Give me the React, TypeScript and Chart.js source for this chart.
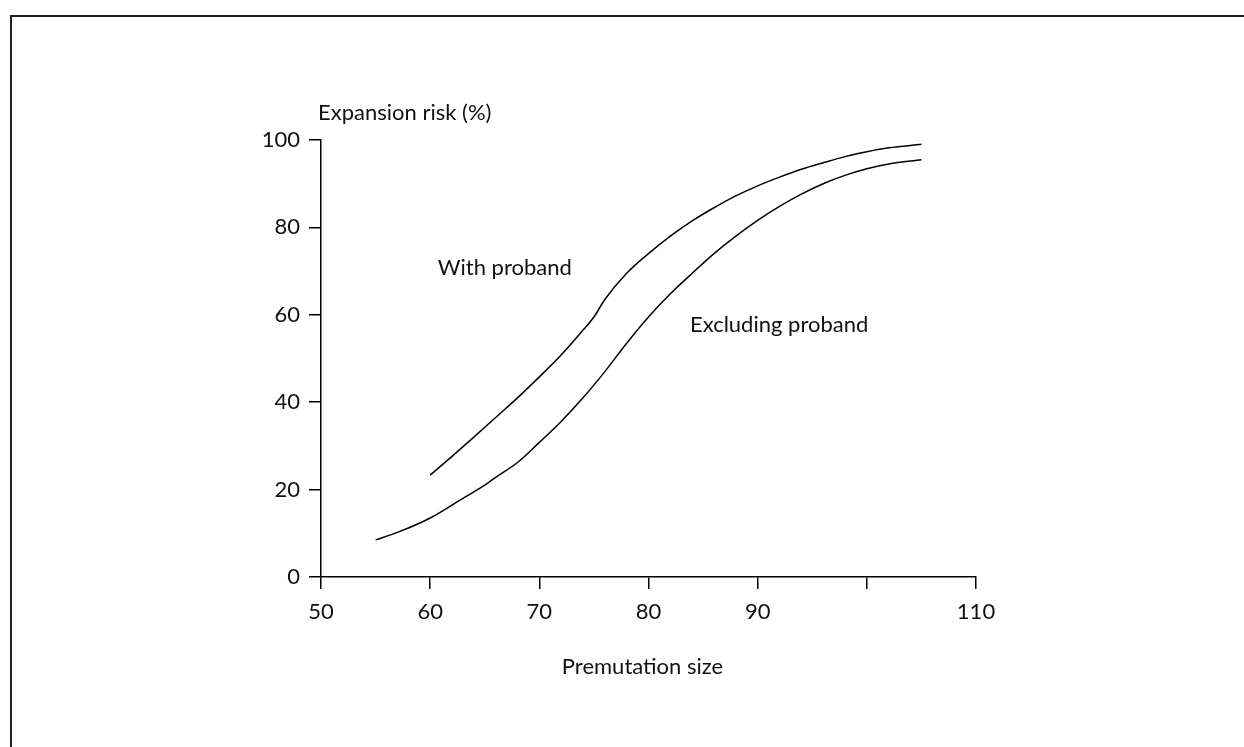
import React, { useEffect, useRef } from "react";
import { Chart, registerables } from "chart.js";

Chart.register(...registerables);

const withProbandX = [60, 62, 64, 66, 68, 70, 72, 74, 75, 76, 78, 80, 82, 84, 86, 88, 90, 92, 94, 96, 98, 100, 102, 105];
const withProbandY = [23.3, 27.6, 32, 36.5, 41, 45.8, 50.8, 56.5, 59.5, 63.5, 69.5, 74, 78, 81.5, 84.5, 87.2, 89.5, 91.5, 93.3, 94.8, 96.2, 97.3, 98.2, 99.0];

const excludingX = [55, 57, 60, 63, 65, 66, 68, 70, 72, 74, 76, 78, 80, 82, 84, 86, 88, 90, 92, 94, 96, 98, 100, 102, 105];
const excludingY = [8.5, 10.2, 13.5, 18, 21, 22.8, 26.2, 30.8, 35.6, 41, 47, 53.5, 59.5, 64.8, 69.5, 74, 78, 81.6, 84.8, 87.6, 90.0, 91.9, 93.4, 94.5, 95.5];

const xTicks = [50, 60, 70, 80, 90, 100, 110];
const xTickLabels = ["50", "60", "70", "80", "90", "", "110"];
const yTicks = [0, 20, 40, 60, 80, 100];

const yTitle = "Expansion risk (%)";
const xTitle = "Premutation size";
const curveLabels = [
  { text: "With proband", x: 60.7, y: 70.7 },
  { text: "Excluding proband", x: 83.8, y: 57.7 },
];

const FONT = "Lato, 'Open Sans', sans-serif";
const FS = 22;

export default function App() {
  const ref = useRef<HTMLCanvasElement | null>(null);

  useEffect(() => {
    if (!ref.current) return;
    const textPlugin = {
      id: "texts",
      beforeDraw(chart: any) {
        const ctx = chart.ctx;
        ctx.save();
        ctx.strokeStyle = "#222";
        ctx.lineWidth = 2;
        ctx.beginPath();
        ctx.moveTo(11, chart.height + 5);
        ctx.lineTo(11, 16);
        ctx.lineTo(chart.width + 5, 16);
        ctx.stroke();
        ctx.restore();
      },
      afterDraw(chart: any) {
        const ctx = chart.ctx;
        const xs = chart.scales.x;
        const ys = chart.scales.y;
        ctx.save();
        ctx.fillStyle = "#111";
        ctx.font = `${FS}px ${FONT}`;
        ctx.textBaseline = "middle";
        ctx.textAlign = "left";
        for (const l of curveLabels) {
          ctx.fillText(l.text, xs.getPixelForValue(l.x), ys.getPixelForValue(l.y));
        }
        ctx.fillText(yTitle, xs.left - 3, ys.top - 27);
        ctx.textAlign = "center";
        ctx.fillText(xTitle, (xs.left + xs.right) / 2 - 6, ys.bottom + 90);
        ctx.restore();
      },
    };

    const chart = new Chart(ref.current, {
      type: "line",
      data: {
        datasets: [
          {
            label: "With proband",
            data: withProbandX.map((x, i) => ({ x, y: withProbandY[i] })),
            borderColor: "#000",
            borderWidth: 1.5,
            pointRadius: 0,
            cubicInterpolationMode: "monotone",
            fill: false,
          },
          {
            label: "Excluding proband",
            data: excludingX.map((x, i) => ({ x, y: excludingY[i] })),
            borderColor: "#000",
            borderWidth: 1.5,
            pointRadius: 0,
            cubicInterpolationMode: "monotone",
            fill: false,
          },
        ],
      },
      options: {
        animation: false,
        responsive: true,
        maintainAspectRatio: false,
        layout: { padding: { left: 261, right: 268, top: 140, bottom: 120 } },
        plugins: { legend: { display: false }, tooltip: { enabled: false } },
        scales: {
          x: {
            type: "linear",
            min: 50,
            max: 110,
            afterBuildTicks: (s: any) => {
              s.ticks = xTicks.map((v) => ({ value: v }));
            },
            afterFit: (s: any) => {
              s.height = 50;
            },
            ticks: {
              color: "#111",
              font: { family: FONT, size: FS },
              padding: 10,
              maxRotation: 0,
              callback: (v: any) => xTickLabels[xTicks.indexOf(Number(v))] ?? "",
            },
            grid: { display: true, drawOnChartArea: false, drawTicks: true, tickLength: 12, color: "#000", lineWidth: 1.5 },
            border: { display: true, color: "#000", width: 1.5 },
          },
          y: {
            type: "linear",
            min: 0,
            max: 100,
            afterBuildTicks: (s: any) => {
              s.ticks = yTicks.map((v) => ({ value: v }));
            },
            afterFit: (s: any) => {
              s.width = 60;
            },
            ticks: {
              color: "#111",
              font: { family: FONT, size: FS },
              padding: 9,
            },
            grid: { display: true, drawOnChartArea: false, drawTicks: true, tickLength: 12, color: "#000", lineWidth: 1.5 },
            border: { display: true, color: "#000", width: 1.5 },
          },
        },
      },
      plugins: [textPlugin],
    } as any);
    return () => chart.destroy();
  }, []);

  return (
    <div style={{ position: "fixed", left: 0, top: 0, width: 1244, height: 747, background: "#fff", overflow: "hidden" }}>
      <canvas ref={ref} style={{ position: "absolute", left: 0, top: 0, width: 1244, height: 747 }} />
    </div>
  );
}
